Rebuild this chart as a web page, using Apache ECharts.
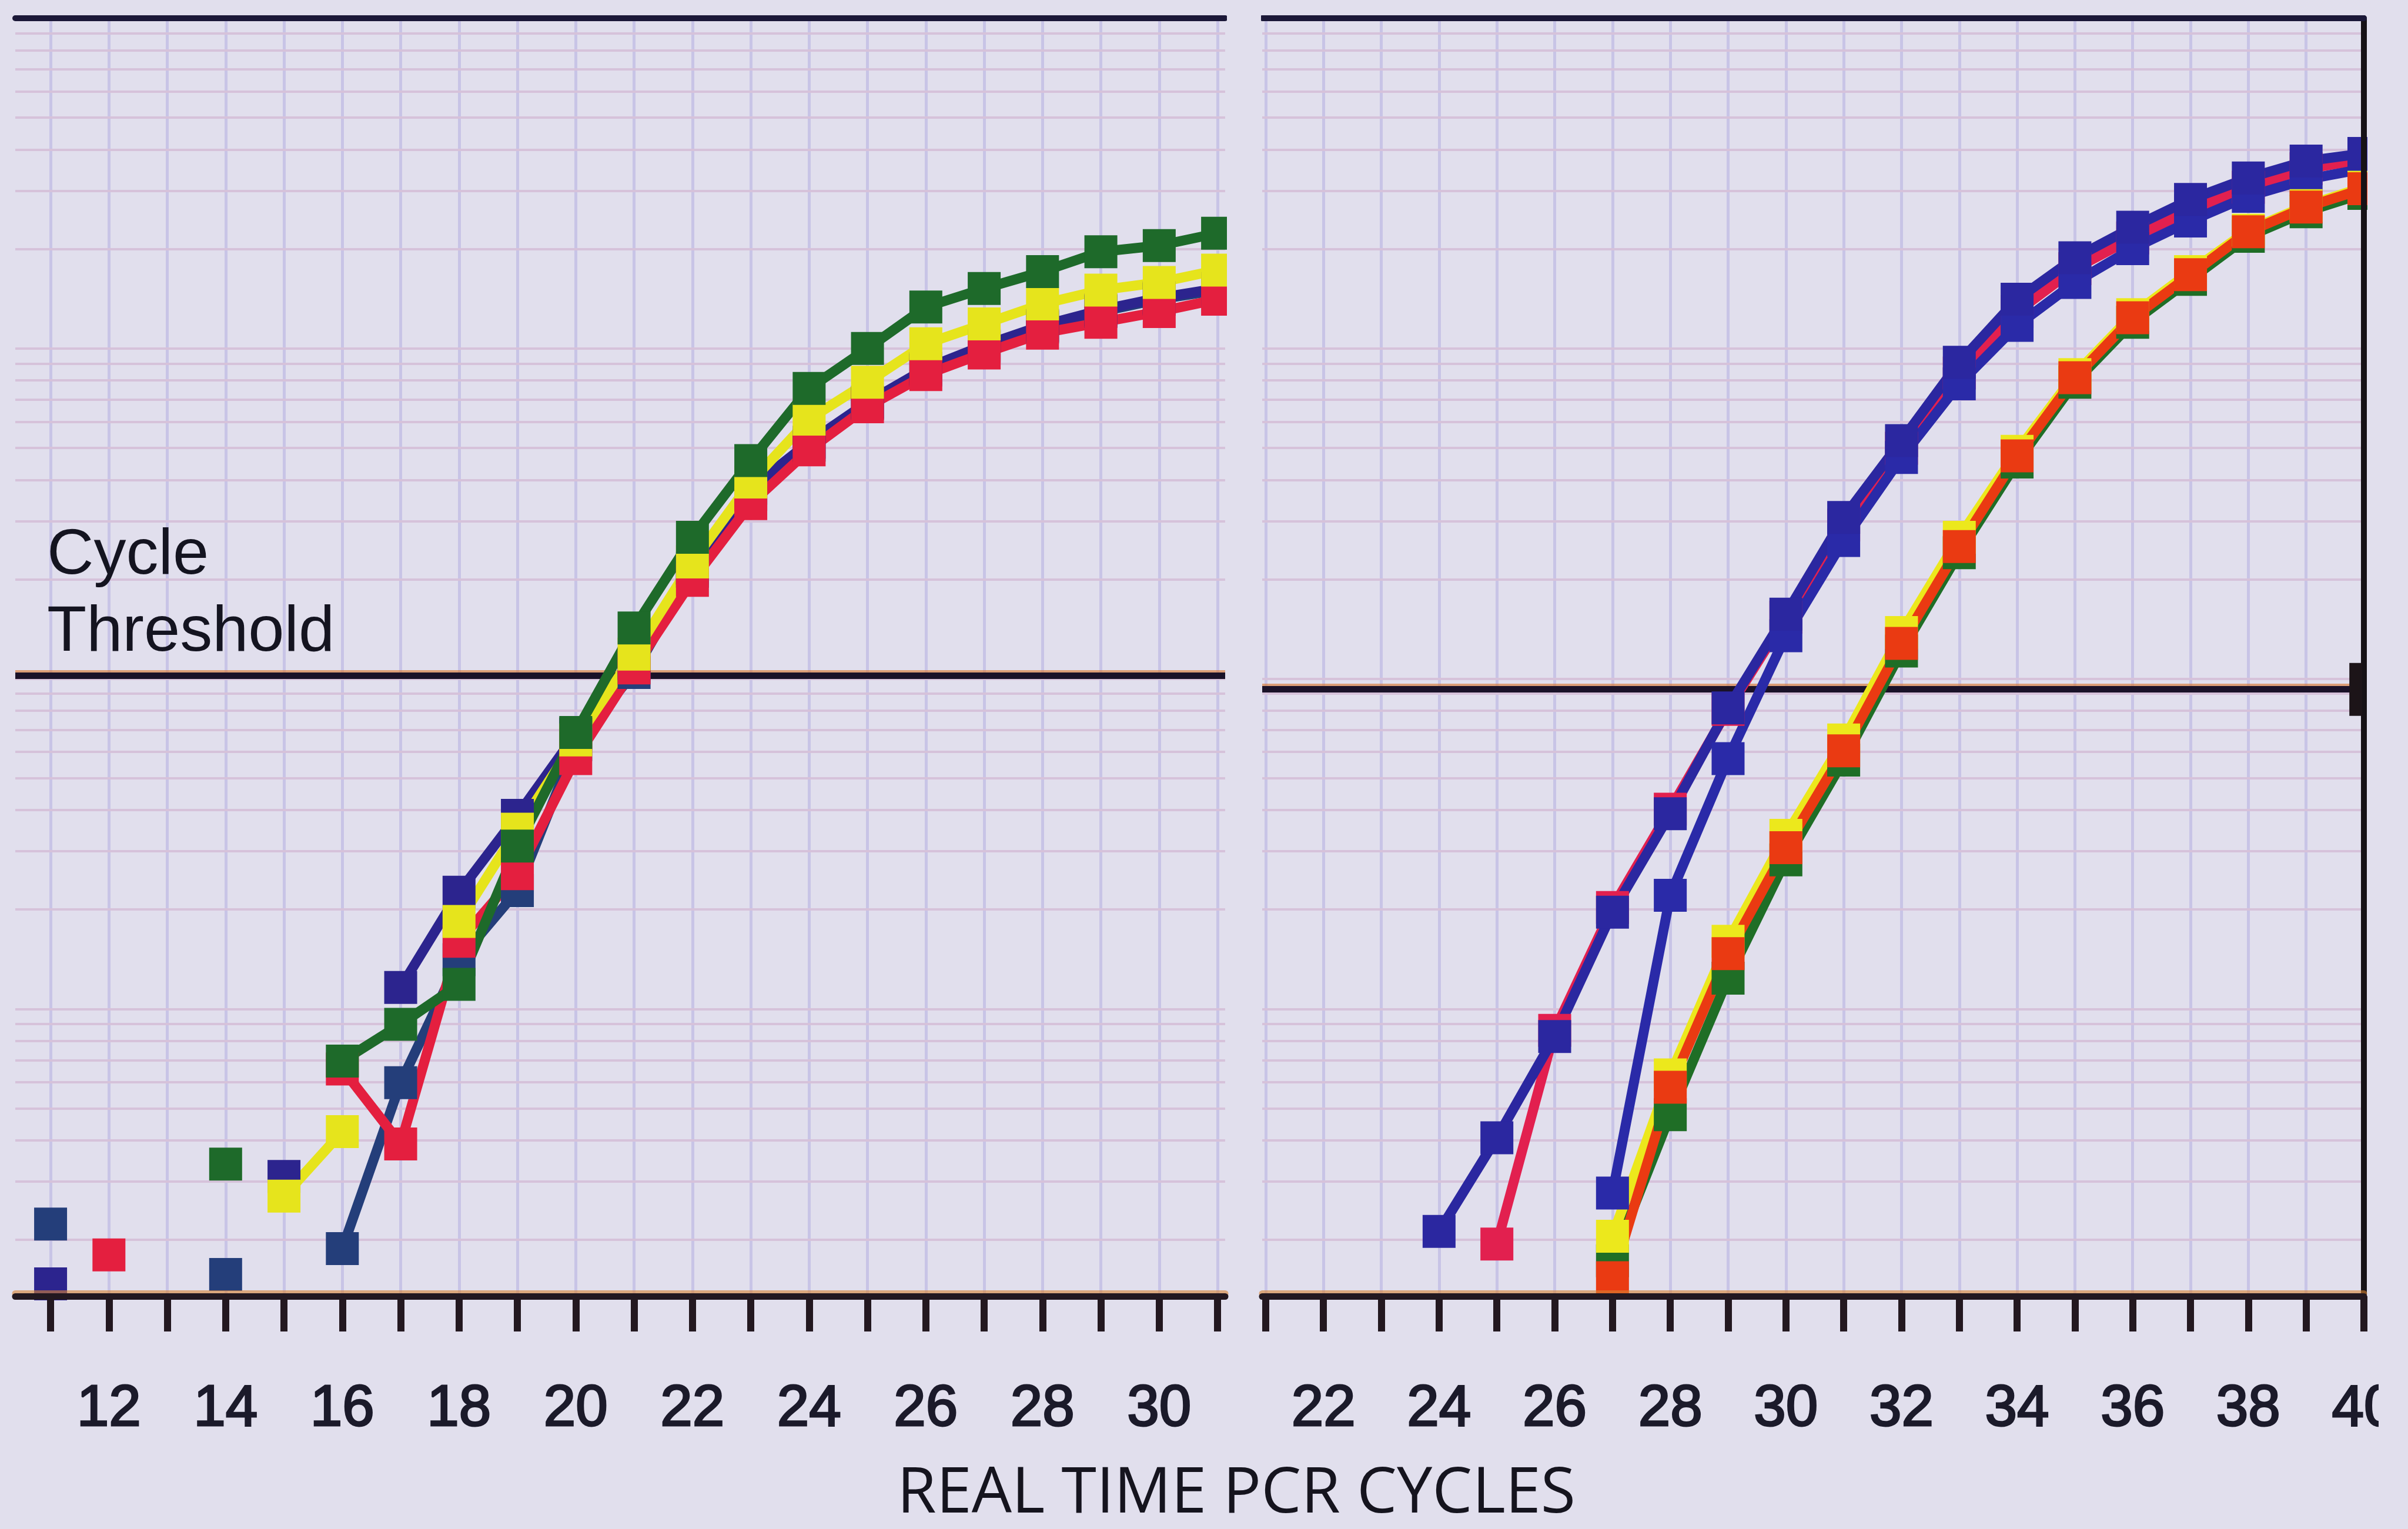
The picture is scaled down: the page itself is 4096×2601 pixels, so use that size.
<!DOCTYPE html>
<html>
<head>
<meta charset="utf-8">
<script src="https://cdn.jsdelivr.net/npm/echarts@6/dist/echarts.min.js"></script>
<style>
html,body{margin:0;padding:0;background:#e1dfed;}
#c{width:4096px;height:2601px;}
</style>
</head>
<body>
<div id="c"></div>
<script>
// ---------- DATA (y = fluorescence on a log scale) ----------
const leftCycles = [11,12,13,14,15,16,17,18,19,20,21,22,23,24,25,26,27,28,29,30,31];
const leftNavy   = [0.0147,null,null,null,0.0311,null,0.1162,0.2257,0.3855,0.680,1.113,2.162,3.773,5.203,6.875,8.70,10.22,11.74,13.07,14.24,15.19];
const leftSlate  = [0.0223,null,null,0.0157,null,0.0188,0.0598,0.1409,0.2281,0.631,1.044,2.116,3.615,5.093,6.80,8.606,10.11,11.62,12.93,14.09,15.02];
const leftRed    = [null,0.0180,null,null,null,0.0658,0.0390,0.1602,0.2566,0.573,1.078,1.985,3.390,4.932,6.656,8.334,9.683,11.13,12.00,12.93,14.09];
const leftYellow = [null,null,null,null,0.0271,0.0425,null,0.1841,0.3501,0.652,1.187,2.257,3.938,6.109,7.902,10.33,11.87,13.64,15.02,15.85,17.27];
const leftGreen  = [null,null,null,0.0339,null,0.0695,0.0898,0.1187,0.3112,0.6875,1.424,2.679,4.576,7.569,10.0,13.35,15.19,17.09,19.63,20.49,22.33];

const rightCycles = [24,25,26,27,28,29,30,31,32,33,34,35,36,37,38,39,40];
const rightBlueA  = [0.0212,0.0407,0.0825,0.1963,0.390,0.816,1.568,3.079,5.259,9.08,14.09,18.81,23.30,28.27,32.84,36.94,38.97];
const rightPink   = [null,0.0194,0.0861,0.2028,0.4024,0.807,1.535,2.918,4.985,8.425,12.93,17.45,21.62,26.21,30.79,35.01,37.33];
const rightBlueB  = [null,null,null,0.0277,0.2209,0.573,1.349,2.621,4.675,7.816,11.74,15.85,20.06,24.32,28.88,32.48,35.01];
const rightGreen  = [null,null,null,0.01727,0.0478,0.1239,0.2827,0.567,1.213,2.407,4.527,7.902,12.00,16.19,21.85,25.94,29.49];
const rightYellow = [null,null,null,0.0205,0.0631,0.1602,0.3354,0.652,1.379,2.679,4.881,8.334,12.66,17.09,22.81,27.07,30.79];
const rightOrange = [null,null,null,0.01535,0.0579,0.1470,0.3079,0.6045,1.279,2.512,4.726,8.157,12.39,16.72,22.57,26.79,30.45];

const leftTicks  = [11,12,13,14,15,16,17,18,19,20,21,22,23,24,25,26,27,28,29,30,31];
const leftLabels = [12,14,16,18,20,22,24,26,28,30];
const rightTicks  = [21,22,23,24,25,26,27,28,29,30,31,32,33,34,35,36,37,38,39,40];
const rightLabels = [22,24,26,28,30,32,34,36,38,40];
const leftGridCycles  = [11,12,13,14,15,16,17,18,19,20,21,22,23,24,25,26,27,28,29,30,31];
const rightGridCycles = [21,22,23,24,25,26,27,28,29,30,31,32,33,34,35,36,37,38,39];
const gridDecades = [0.01,0.1,1,10];
const gridMultipliers = [1,2,3,4,5,6,7,8,9];
const thresholdLeft = 1.02;
const thresholdRight = 0.928;
const thresholdMarkerCycle = 39.86;
const xRangeLeft = [10.395, 31.13];
const xRangeRight = [20.94, 40];
const yRange = [0.01349, 100];

// ---------- STYLE ----------
const BG = '#e1dfed';
const V_GRID = '#c8c4e6';
const H_GRID = '#d6c2da';
const AXIS_DARK = '#231820';
const TXT = '#1b1a2a';

const chart = echarts.init(document.getElementById('c'), null, {renderer:'canvas', width:4096, height:2601});

const hVals = [];
gridDecades.forEach(d => gridMultipliers.forEach(m => {
  const v = +(m*d).toPrecision(6);
  if (v >= yRange[0] && v < yRange[1]) hVals.push(v);
}));

function pairs(cycles, vals) {
  return cycles.map((c,i) => [c, vals[i] == null ? '-' : vals[i]]);
}

function gridLines(xi, yi, cycles) {
  return {
    type:'line', xAxisIndex:xi, yAxisIndex:yi, data:[], silent:true, z:1,
    markLine:{
      z:1, silent:true, symbol:['none','none'], label:{show:false}, animation:false,
      emphasis:{disabled:true},
      data:[
        ...cycles.map(c => ({xAxis:c, lineStyle:{color:V_GRID, width:5, type:'solid'}})),
        ...hVals.map(v => ({yAxis:v, lineStyle:{color:H_GRID, width:4, type:'solid'}}))
      ]
    }
  };
}

function threshold(xi, yi, val, withMarker) {
  const s = {
    type:'line', xAxisIndex:xi, yAxisIndex:yi, data:[], silent:true, z:2,
    markLine:{
      z:2, silent:true, symbol:['none','none'], label:{show:false}, animation:false,
      emphasis:{disabled:true},
      data:[{yAxis:val, lineStyle:{color:'#1a1228', width:11, type:'solid',
        shadowColor:'rgba(215,115,40,0.6)', shadowBlur:0, shadowOffsetY:-4}}]
    }
  };
  if (withMarker) {
    s.markPoint = {
      z:6, silent:true, animation:false, label:{show:false},
      data:[{coord:[thresholdMarkerCycle, val], symbol:'rect', symbolSize:[22,90],
        itemStyle:{color:'#1c1418'}}]
    };
  }
  return s;
}

function dataSeries(name, xi, yi, cycles, vals, color) {
  return {
    name, type:'line', xAxisIndex:xi, yAxisIndex:yi, z:3,
    data: pairs(cycles, vals),
    connectNulls:false, symbol:'rect', symbolSize:56, showSymbol:true,
    lineStyle:{color, width:17}, itemStyle:{color},
    emphasis:{disabled:true}, animation:false, silent:true
  };
}

function bottomAxis(gi, range, ticks, labels) {
  return {
    type:'value', gridIndex:gi, position:'bottom', min:range[0], max:range[1], z:4,
    axisLine:{show:true, onZero:false, lineStyle:{color:AXIS_DARK, width:11,
      shadowColor:'rgba(215,130,50,0.6)', shadowOffsetY:-5, shadowBlur:0}},
    axisTick:{show:true, inside:false, length:60, customValues:ticks,
      lineStyle:{color:AXIS_DARK, width:12}},
    axisLabel:{show:true, customValues:labels, margin:193, verticalAlign:'middle',
      fontFamily:'"Liberation Sans", Arial, sans-serif', fontWeight:'normal', fontSize:98,
      color:TXT, textBorderColor:TXT, textBorderWidth:3,
      formatter:v => String(Math.round(v))},
    splitLine:{show:false}
  };
}
function topAxis(gi, range) {
  return {
    type:'value', gridIndex:gi, position:'top', min:range[0], max:range[1], z:4,
    axisLine:{show:true, onZero:false, lineStyle:{color:'#1b1838', width:10}},
    axisTick:{show:false}, axisLabel:{show:false}, splitLine:{show:false}
  };
}

const option = {
  backgroundColor: BG,
  animation:false,
  grid:[
    {left:26, top:31, width:2058, height:2174},
    {left:2147, top:31, width:1874, height:2174}
  ],
  xAxis:[
    bottomAxis(0, xRangeLeft, leftTicks, leftLabels),
    topAxis(0, xRangeLeft),
    bottomAxis(1, xRangeRight, rightTicks, rightLabels),
    topAxis(1, xRangeRight)
  ],
  yAxis:[
    {type:'log', logBase:10, gridIndex:0, min:yRange[0], max:yRange[1],
      axisLine:{show:false}, axisTick:{show:false}, axisLabel:{show:false}, splitLine:{show:false}},
    {type:'log', logBase:10, gridIndex:1, position:'right', min:yRange[0], max:yRange[1], z:4,
      axisLine:{show:true, onZero:false, lineStyle:{color:'#161216', width:10}},
      axisTick:{show:false}, axisLabel:{show:false}, splitLine:{show:false}}
  ],
  series:[
    gridLines(0, 0, leftGridCycles),
    gridLines(2, 1, rightGridCycles),
    threshold(0, 0, thresholdLeft, false),
    threshold(2, 1, thresholdRight, true),
    dataSeries('Left slate', 0, 0, leftCycles, leftSlate, '#243e7a'),
    dataSeries('Left navy', 0, 0, leftCycles, leftNavy, '#2c248e'),
    dataSeries('Left red', 0, 0, leftCycles, leftRed, '#e41f3f'),
    dataSeries('Left yellow', 0, 0, leftCycles, leftYellow, '#e6e41c'),
    dataSeries('Left green', 0, 0, leftCycles, leftGreen, '#1e6a2a'),
    dataSeries('Right pink', 2, 1, rightCycles, rightPink, '#e2204f'),
    dataSeries('Right blue B', 2, 1, rightCycles, rightBlueB, '#2a2aa8'),
    dataSeries('Right blue A', 2, 1, rightCycles, rightBlueA, '#2b27a0'),
    dataSeries('Right green', 2, 1, rightCycles, rightGreen, '#1f6e26'),
    dataSeries('Right yellow', 2, 1, rightCycles, rightYellow, '#ece81c'),
    dataSeries('Right orange', 2, 1, rightCycles, rightOrange, '#ea3a12')
  ],
  graphic:[
    {type:'text', x:80, y:946, z:10, silent:true,
      style:{text:'Cycle', fontSize:110, fontFamily:'"Liberation Sans", Arial, sans-serif',
        fill:'#141420', align:'left', verticalAlign:'middle', textAlign:'left', textVerticalAlign:'middle'}},
    {type:'text', x:80, y:1077, z:10, silent:true,
      style:{text:'Threshold', fontSize:110, fontFamily:'"Liberation Sans", Arial, sans-serif',
        fill:'#141420', align:'left', verticalAlign:'middle', textAlign:'left', textVerticalAlign:'middle'}},
    {type:'text', x:2103, y:2542, z:10, silent:true,
      style:{text:'REAL TIME PCR CYCLES', fontSize:108, fontFamily:'"Open Sans", sans-serif',
        fill:'#15141e', align:'center', verticalAlign:'middle', textAlign:'center', textVerticalAlign:'middle'}},
    // page edges / panel gap trimming (marks are clipped at the panel frames in the photo)
    {type:'rect', z:20, silent:true, shape:{x:2087, y:0, width:58, height:2196}, style:{fill:BG}},
    {type:'rect', z:20, silent:true, shape:{x:4027, y:0, width:69, height:2196}, style:{fill:BG}},
    {type:'rect', z:20, silent:true, shape:{x:4046, y:2300, width:60, height:200}, style:{fill:BG}}
  ]
};
chart.setOption(option);
</script>
</body>
</html>
